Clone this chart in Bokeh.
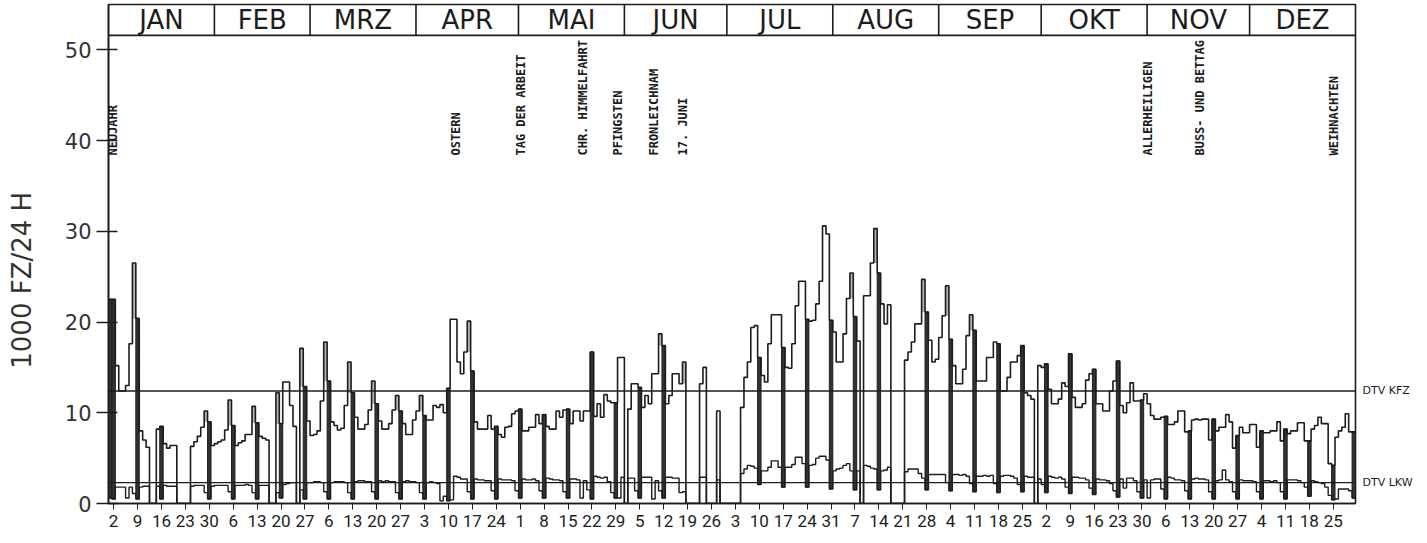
import math
from bokeh.plotting import figure
from bokeh.models import FixedTicker, Span, LinearAxis
from bokeh.core.properties import value
from bokeh.embed import file_html
from bokeh.resources import INLINE

# ---------------- data (1977, daily values, 1000 vehicles / 24 h) ----------------
months = ["JAN", "FEB", "MRZ", "APR", "MAI", "JUN", "JUL", "AUG", "SEP", "OKT", "NOV", "DEZ"]
month_days = [31, 28, 31, 30, 31, 30, 31, 31, 30, 31, 30, 31]

kfz_jan = [22.5, 22.5, 15.2, 12.4, 12.4, 13.0, 17.6, 26.5, 20.4, 8.0, 7.0, 6.2, 0, 0, 8.2, 8.5,
           6.6, 6.1, 6.4, 6.4, 0, 0, 0, 0, 6.3, 6.8, 7.4, 8.4, 10.2, 9.0, 6.4]
kfz_feb = [6.6, 6.8, 7.0, 8.1, 11.4, 8.6, 6.4, 6.7, 6.9, 7.6, 7.6, 10.7, 8.9, 7.4, 7.2, 7.0,
           0, 0, 12.2, 8.8, 13.4, 13.4, 10.8, 8.5, 0, 17.1, 12.9, 9.1]
kfz_mar = [7.5, 7.6, 8.0, 11.3, 17.8, 13.5, 9.0, 8.6, 8.1, 8.3, 10.8, 15.6, 12.2, 9.5, 8.2, 8.2,
           8.7, 10.3, 13.5, 11.0, 9.1, 8.2, 8.2, 8.8, 10.3, 11.9, 10.2, 8.8, 7.6, 7.6, 9.2]
kfz_apr = [10.2, 11.9, 9.7, 9.2, 9.2, 10.8, 10.6, 10.9, 10.0, 12.7, 20.3, 20.3, 15.6, 14.3, 16.7,
           20.1, 14.6, 9.0, 8.2, 8.2, 8.2, 9.7, 8.2, 8.5, 7.6, 7.3, 8.4, 8.5, 9.9, 10.2]
kfz_mai = [10.4, 8.0, 8.0, 8.4, 8.4, 9.8, 8.8, 9.8, 8.5, 8.2, 8.2, 10.2, 9.5, 10.3, 10.4, 8.8,
           10.2, 10.2, 9.1, 10.2, 10.2, 16.7, 9.6, 11.0, 9.5, 12.0, 11.3, 11.1, 11.1, 16.1, 16.1]
kfz_jun = [0, 10.4, 13.2, 13.2, 12.8, 10.6, 11.9, 11.0, 14.3, 14.3, 18.7, 17.4, 11.0, 11.9, 14.3,
           14.3, 13.2, 15.6, 0, 0, 0, 0, 13.2, 15.0, 0, 0, 0, 10.2, 0, 0]
kfz_jul = [0, 0, 0, 0, 10.6, 13.9, 15.6, 19.4, 19.6, 16.1, 14.1, 13.4, 17.6, 20.8, 20.8, 20.8,
           17.2, 15.0, 14.9, 17.6, 21.8, 24.5, 24.5, 20.3, 20.1, 20.2, 22.0, 24.5, 30.6, 29.7, 20.2]
kfz_aug = [18.9, 15.6, 15.6, 18.7, 22.6, 25.4, 20.6, 17.9, 0, 22.9, 22.9, 26.5, 30.3, 25.4, 22.0,
           19.8, 21.9, 0, 0, 0, 0, 15.8, 16.7, 17.8, 19.8, 19.8, 24.7, 21.1, 18.0, 15.6, 15.9]
kfz_sep = [18.3, 20.7, 24.0, 18.1, 15.2, 13.2, 13.2, 14.8, 18.5, 20.8, 19.1, 13.5, 13.5, 13.5,
           16.1, 16.1, 17.8, 17.6, 12.4, 12.4, 13.9, 15.6, 15.6, 16.3, 17.4, 12.2, 11.9, 11.5, 0, 15.2]
kfz_okt = [15.0, 15.4, 12.6, 11.0, 11.0, 11.5, 13.3, 12.9, 16.5, 11.7, 10.6, 10.6, 11.0, 13.6,
           14.3, 14.8, 11.0, 11.0, 10.2, 10.2, 12.4, 13.5, 15.7, 10.8, 10.0, 11.1, 13.3, 11.3,
           11.3, 11.4, 12.1]
kfz_nov = [11.0, 9.7, 9.3, 9.3, 9.5, 9.6, 8.7, 8.7, 9.0, 10.2, 10.2, 7.9, 8.0, 9.2, 9.3, 9.2,
           9.3, 9.3, 7.0, 9.3, 8.0, 8.4, 8.4, 9.8, 9.0, 6.1, 7.5, 8.4, 7.8, 7.8]
kfz_dez = [8.7, 8.7, 6.2, 8.0, 7.8, 7.8, 8.0, 8.0, 9.0, 6.9, 8.2, 7.7, 8.0, 8.0, 8.9, 8.9, 6.9,
           6.9, 8.2, 8.6, 9.5, 8.8, 8.8, 4.4, 4.2, 7.3, 8.0, 8.4, 9.9, 7.9, 7.9]

lkw_jan = [0.6, 0.5, 1.8, 1.8, 1.8, 0.6, 1.8, 1.1, 0.5, 1.8, 1.9, 1.9, 0, 0, 1.9, 0.5,
           2.0, 1.9, 1.9, 1.9, 0, 0, 0, 0, 1.9, 2.0, 2.0, 2.0, 1.2, 0.5, 1.9]
lkw_feb = [2.0, 2.0, 2.0, 2.0, 1.3, 0.5, 2.0, 2.0, 2.0, 2.1, 2.0, 1.2, 0.5, 2.0, 2.0, 2.0,
           0, 0, 1.2, 0.6, 2.1, 2.2, 2.3, 2.3, 0, 1.5, 0.5, 2.3]
lkw_mar = [2.3, 2.4, 2.4, 2.3, 1.3, 0.5, 2.3, 2.4, 2.4, 2.4, 2.3, 1.2, 0.5, 2.4, 2.5, 2.5,
           2.4, 2.4, 1.3, 0.5, 2.5, 2.4, 2.5, 2.4, 2.4, 1.2, 0.5, 2.4, 2.5, 2.4, 2.4]
lkw_apr = [2.3, 1.2, 0.5, 2.3, 2.4, 2.3, 2.2, 0.3, 0.8, 0.3, 0.4, 3.0, 2.9, 2.7, 2.7, 1.3, 0.5,
           2.7, 2.6, 2.6, 2.5, 2.5, 1.4, 0.5, 2.7, 2.6, 2.6, 2.6, 2.5, 1.4]
lkw_mai = [0.6, 2.7, 2.6, 2.6, 2.7, 2.5, 1.4, 0.6, 2.8, 2.7, 2.6, 2.6, 2.5, 1.3, 0.6, 2.7,
           2.7, 2.6, 0.6, 2.5, 1.5, 0.5, 3.0, 2.9, 2.8, 2.9, 2.4, 1.2, 0.6, 0.6, 2.9]
lkw_jun = [0, 2.8, 2.8, 1.4, 0.6, 2.9, 2.9, 2.9, 0.5, 2.5, 1.4, 0.6, 2.9, 2.9, 2.8, 2.8, 1.2,
           1.3, 0, 0, 0, 0, 2.9, 2.9, 0, 0, 0, 2.6, 0, 0]
lkw_jul = [0, 0, 0, 0, 3.3, 3.8, 4.2, 4.1, 3.9, 2.1, 3.6, 3.6, 4.0, 4.7, 4.7, 4.0, 1.8, 4.0,
           4.0, 4.3, 5.1, 5.1, 4.4, 1.8, 4.2, 4.3, 5.0, 5.2, 5.2, 4.8, 1.6]
lkw_aug = [3.6, 3.8, 3.9, 4.2, 4.4, 3.6, 1.5, 3.6, 0, 4.2, 4.1, 3.9, 3.8, 1.5, 3.6, 3.7, 4.0,
           0, 0, 0, 0, 3.5, 3.8, 3.8, 3.8, 3.3, 2.8, 1.5, 3.2, 3.2, 3.2]
lkw_sep = [3.2, 3.2, 2.3, 1.4, 3.2, 3.2, 3.1, 3.2, 3.0, 2.2, 1.3, 3.0, 3.0, 3.1, 3.0, 3.1, 2.2,
           1.2, 3.0, 3.1, 3.1, 3.0, 2.8, 2.1, 1.3, 3.0, 2.9, 2.9, 0, 2.7]
lkw_okt = [2.1, 1.2, 3.0, 2.9, 2.8, 2.9, 2.7, 1.8, 1.1, 2.9, 2.9, 2.8, 2.8, 2.6, 1.7, 1.0, 2.7,
           2.6, 2.6, 2.5, 2.2, 1.4, 0.7, 2.7, 1.7, 2.8, 2.8, 2.5, 1.3, 0.6, 2.6]
lkw_nov = [0.6, 2.6, 2.7, 2.7, 1.6, 0.5, 2.9, 2.8, 2.6, 2.6, 2.5, 1.4, 0.5, 2.7, 2.8, 2.7, 2.7,
           2.6, 1.3, 0.5, 2.5, 2.6, 3.7, 2.6, 2.4, 1.3, 0.5, 2.6, 2.5, 2.5]
lkw_dez = [2.5, 2.4, 1.3, 0.5, 2.5, 2.5, 2.4, 2.5, 2.3, 1.3, 0.5, 2.6, 2.6, 2.6, 2.5, 2.3, 1.8,
           0.8, 2.5, 2.4, 2.3, 2.2, 1.8, 0.9, 0.4, 0.5, 1.6, 1.6, 1.6, 1.4, 0.6]

tick_labels = ["2", "9", "16", "23", "30", "6", "13", "20", "27", "6", "13", "20", "27",
               "3", "10", "17", "24", "1", "8", "15", "22", "29", "5", "12", "19", "26",
               "3", "10", "17", "24", "31", "7", "14", "21", "28", "4", "11", "18", "25",
               "2", "9", "16", "23", "30", "6", "13", "20", "27", "4", "11", "18", "25"]
first_sunday = 1            # day index of 2 January (first Sunday)
extra_dark_days = [0, 364]  # Neujahr and last day, drawn dark as well

holidays = ["NEUJAHR", "OSTERN", "TAG DER ARBEIT", "CHR. HIMMELFAHRT", "PFINGSTEN",
            "FRONLEICHNAM", "17. JUNI", "ALLERHEILIGEN", "BUSS- UND BETTAG", "WEIHNACHTEN"]
holiday_day = [1.2, 101.6, 120.6, 139.0, 149.0, 159.8, 168.3, 304.2, 319.5, 358.8]

dtv_kfz = 12.4
dtv_lkw = 2.3
dtv_names = ["DTV KFZ", "DTV LKW"]
y_ticks = [0, 10, 20, 30, 40, 50]
y_title = "1000 FZ/24 H"

# ---------------- assemble ----------------
kfz = (kfz_jan + kfz_feb + kfz_mar + kfz_apr + kfz_mai + kfz_jun + kfz_jul + kfz_aug
       + kfz_sep + kfz_okt + kfz_nov + kfz_dez)
lkw = (lkw_jan + lkw_feb + lkw_mar + lkw_apr + lkw_mai + lkw_jun + lkw_jul + lkw_aug
       + lkw_sep + lkw_okt + lkw_nov + lkw_dez)
n = len(kfz)

Y_TOP = 55.0
BAND_BOTTOM = 51.6
LABEL_BASE = 38.35
TITLE_Y = 24.6
INK = "#1c1c1c"

p = figure(width=1419, height=535, output_backend="svg", toolbar_location=None,
           x_range=(0, n), y_range=(0, Y_TOP),
           min_border_left=108, min_border_right=64, min_border_top=4, min_border_bottom=32)
p.grid.visible = False
p.outline_line_color = INK
p.outline_line_width = 1.6
p.background_fill_color = "white"
p.border_fill_color = "white"

# Saturday peaks: light grey inside the tall narrow step (plotter double stroke look)
sat = [i for i in range(n) if (i - first_sunday) % 7 == 6]
sat_peaks = [i for i in sat if 0 < i < n - 1 and kfz[i] > max(kfz[i - 1], kfz[i + 1]) + 1.0]
p.quad(left=sat_peaks, right=[i + 1 for i in sat_peaks],
       bottom=[max(kfz[i - 1], kfz[i + 1]) for i in sat_peaks], top=[kfz[i] for i in sat_peaks],
       fill_color="#b4b4b4", line_color=None)

# dark bars: Sundays and holidays
dark = sorted(set([i for i in range(n) if (i - first_sunday) % 7 == 0] + extra_dark_days))
p.quad(left=[i for i in dark], right=[i + 1 for i in dark],
       bottom=[lkw[i] for i in dark], top=[kfz[i] for i in dark],
       fill_color="#333333", line_color=INK, line_width=1)

# reference lines
p.add_layout(Span(location=dtv_kfz, dimension="width", line_color=INK, line_width=1.4))
p.add_layout(Span(location=dtv_lkw, dimension="width", line_color=INK, line_width=1.4))

# step lines
xs = list(range(n + 1))
p.step(xs, kfz + [kfz[-1]], mode="after", line_color=INK, line_width=1.6)
p.step(xs, lkw + [lkw[-1]], mode="after", line_color=INK, line_width=1.4)

# month band
bounds = []
acc = 0
for d in month_days[:-1]:
    acc += d
    bounds.append(acc)
starts = [0] + bounds
centers = [s + d / 2 for s, d in zip(starts, month_days)]
p.add_layout(Span(location=BAND_BOTTOM, dimension="width", line_color=INK, line_width=1.6))
p.segment(x0=bounds, y0=[BAND_BOTTOM] * len(bounds), x1=bounds, y1=[Y_TOP] * len(bounds),
          line_color=INK, line_width=1.6)
p.text(x=centers, y=[(BAND_BOTTOM + Y_TOP) / 2] * 12, text=months,
       text_align="center", text_baseline="middle", text_color=INK,
       text_font=value("DejaVu Sans"), text_font_size="26px")

# holiday labels
p.text(x=holiday_day, y=[LABEL_BASE] * len(holidays), text=holidays, angle=math.pi / 2,
       text_align="left", text_baseline="middle", text_color=INK,
       text_font=value("DejaVu Sans Mono"), text_font_size="12px", text_font_style="bold")

# x axis (Sundays)
sundays = [i for i in range(n) if (i - first_sunday) % 7 == 0]
tick_pos = [i + 0.5 for i in sundays]
p.xaxis.ticker = FixedTicker(ticks=tick_pos)
p.xaxis.major_label_overrides = {t: lab for t, lab in zip(tick_pos, tick_labels)}
p.xaxis.major_tick_out = 6
p.xaxis.major_tick_in = 0
p.xaxis.minor_tick_line_color = None
p.xaxis.axis_line_color = INK
p.xaxis.axis_line_width = 1.6
p.xaxis.major_tick_line_color = INK
p.xaxis.major_label_standoff = 5
p.xaxis.major_label_text_font = "Roboto"
p.xaxis.major_label_text_font_size = "17px"
p.xaxis.major_label_text_color = INK

# y axis
p.yaxis.ticker = FixedTicker(ticks=y_ticks)
p.yaxis.major_tick_out = 12
p.yaxis.major_tick_in = 9
p.yaxis.minor_tick_line_color = None
p.yaxis.axis_line_color = INK
p.yaxis.axis_line_width = 1.6
p.yaxis.major_tick_line_color = INK
p.yaxis.major_tick_line_width = 1.4
p.yaxis.major_label_standoff = 5
p.yaxis.major_label_text_font = "DejaVu Sans"
p.yaxis.major_label_text_font_size = "21px"
p.yaxis.major_label_text_color = "#333333"

# y title as an extra left axis carrying one rotated label
title_axis = LinearAxis(ticker=FixedTicker(ticks=[TITLE_Y]),
                        major_label_overrides={TITLE_Y: y_title},
                        major_label_orientation="vertical",
                        axis_line_color=None, major_tick_line_color=None,
                        minor_tick_line_color=None, major_tick_out=0, major_tick_in=0,
                        major_label_standoff=24, major_label_text_font="DejaVu Sans",
                        major_label_text_font_size="26px", major_label_text_color="#333333")
p.add_layout(title_axis, "left")

# DTV labels on the right
dtv_axis = LinearAxis(ticker=FixedTicker(ticks=[dtv_kfz, dtv_lkw]),
                      major_label_overrides={dtv_kfz: dtv_names[0], dtv_lkw: dtv_names[1]},
                      axis_line_color=None, major_tick_line_color=None,
                      minor_tick_line_color=None, major_tick_out=0, major_tick_in=0,
                      major_label_standoff=7, major_label_text_font="DejaVu Sans",
                      major_label_text_font_size="11px", major_label_text_color=INK)
p.add_layout(dtv_axis, "right")

open("out.html", "w").write(file_html(p, INLINE))
